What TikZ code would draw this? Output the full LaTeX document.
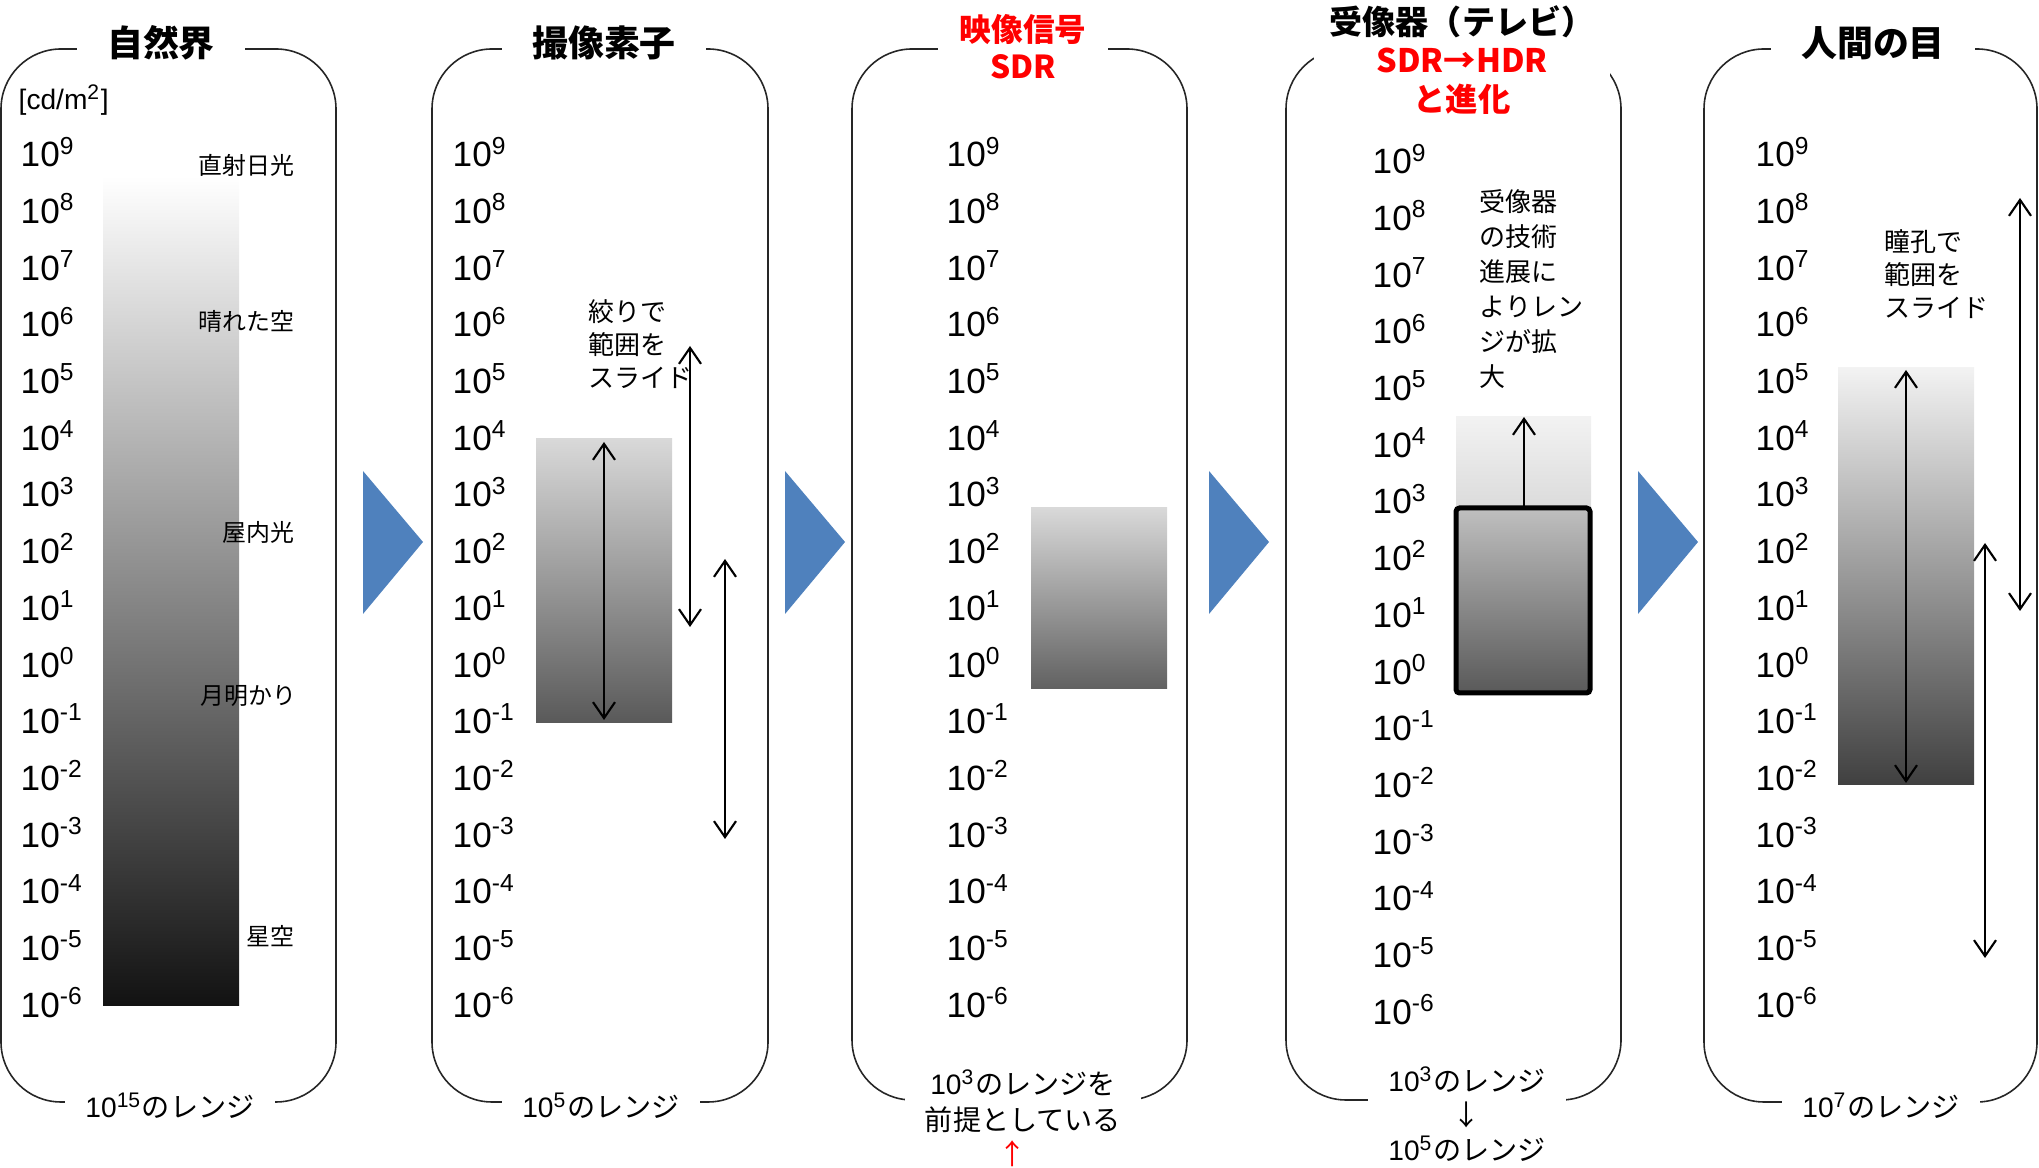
\documentclass[tikz,border=0pt]{standalone}
\usepackage{fontspec}
\setmainfont{Liberation Sans}
\newfontfamily\jp{Noto Sans CJK JP}
\usetikzlibrary{arrows.meta}

\definecolor{chevron}{HTML}{4F81BD}
\definecolor{hdrred}{HTML}{FF0000}

\begin{document}
\begin{tikzpicture}[x=0.01cm,y=-0.01cm,
  panel/.style={draw=black!85,line width=0.45pt,rounded corners=0.6cm},
  title/.style={fill=white,inner xsep=0.3cm,inner ysep=2pt,font=\jp\bfseries\fontsize{10.2}{12}\selectfont},
  redtitle/.style={fill=white,text=hdrred,align=center,inner xsep=0.22cm,font=\jp\bfseries\fontsize{9}{10.5}\selectfont},
  foot/.style={fill=white,inner xsep=0.2cm,inner ysep=1pt,align=center,font=\fontsize{8}{10.2}\selectfont},
  tick/.style={anchor=west,inner sep=0pt,font=\fontsize{10}{12}\selectfont},
  note/.style={anchor=west,align=left,inner sep=0pt,font=\jp\fontsize{7.4}{9.4}\selectfont},
  scene/.style={anchor=east,inner sep=0pt,font=\jp\fontsize{6.8}{8}\selectfont},
  span/.style={{Straight Barb[length=0.16cm,width=0.22cm]}-{Straight Barb[length=0.16cm,width=0.22cm]},line width=0.6pt},
  rise/.style={-{Straight Barb[length=0.16cm,width=0.22cm]},line width=0.6pt}
]
\useasboundingbox (0,0) rectangle (2039,1168);

% panels
\draw[panel] (1,49) rectangle (336,1102);
\draw[panel] (432,49) rectangle (768,1102);
\draw[panel] (852,49) rectangle (1187,1100);
\draw[panel] (1286,49) rectangle (1621,1100);
\draw[panel] (1704,49) rectangle (2037,1102);

% chevrons between panels
\fill[chevron] (363,471) -- (423,542) -- (363,614) -- cycle;
\fill[chevron] (785,471) -- (845,542) -- (785,614) -- cycle;
\fill[chevron] (1209,471) -- (1269,542) -- (1209,614) -- cycle;
\fill[chevron] (1638,471) -- (1698,542) -- (1638,614) -- cycle;

% titles
\node[title] (nature) at (161,43) {自然界};
\node[title] (sensor) at (604,43) {撮像素子};
\node[redtitle] (signal) at (1023,47) {映像信号\\SDR};
\node[redtitle,inner xsep=0.16cm,font=\jp\bfseries\fontsize{9.2}{10.9}\selectfont] (tv) at (1462,60)
  {{\color{black}\fontsize{9.4}{10.9}\selectfont 受像器（テレビ）}\\SDR→HDR\\と進化};
\node[title] (eye) at (1873,43) {人間の目};

% luminance scales
\node[anchor=west,inner sep=0pt,font=\fontsize{8}{10}\selectfont] (unit) at (18,100) {[cd/m\textsuperscript{2}]};
\foreach \px/\py [count=\c] in {20/152,452/152,946/152,1372/159,1755/152}
  \foreach \e [count=\k from 0] in {9,8,...,-6}
    \node[tick] (t\c-\k) at (\px,\py+56.7*\k) {10\textsuperscript{\e}};

% nature
\shade[top color=white,bottom color=black!93] (103,176) rectangle (239,1006);
\node[scene] (sun) at (295,165) {直射日光};
\node[scene] (sky) at (295,321) {晴れた空};
\node[scene] (room) at (295,532) {屋内光};
\node[scene] (moon) at (297,696) {月明かり};
\node[scene] (star) at (295,936) {星空};

% sensor
\shade[top color=black!15,bottom color=black!65] (536,439) rectangle (672,723);
\node[note] (iris) at (588,344) {絞りで\\範囲を\\スライド};
\coordinate (s0t) at (604,442);
\coordinate (s0b) at (604,720);
\coordinate (s1t) at (690,346);
\coordinate (s1b) at (690,627);
\coordinate (s2t) at (725,559);
\coordinate (s2b) at (725,839);
\draw[span] (s0t) -- (s0b);
\draw[span] (s1t) -- (s1b);
\draw[span] (s2t) -- (s2b);

% signal
\shade[top color=black!15,bottom color=black!62] (1031,508) rectangle (1167,689);

% tv
\shade[top color=black!5,bottom color=black!14] (1456,417) rectangle (1591,507);
\shade[draw=black,line width=0.05cm,rounded corners=1pt,top color=black!25,bottom color=black!65] (1456,508) rectangle (1590,693);
\node[note,font=\jp\fontsize{7.4}{10}\selectfont] (growth) at (1479,289) {受像器\\の技術\\進展に\\よりレン\\ジが拡\\大};
\coordinate (tvb) at (1524,506);
\coordinate (tvt) at (1524,417);
\draw[rise] (tvb) -- (tvt);

% eye
\shade[top color=black!5,bottom color=black!75] (1838,368) rectangle (1974,785);
\node[note] (pupil) at (1884,274) {瞳孔で\\範囲を\\スライド};
\coordinate (e0t) at (1906,370);
\coordinate (e0b) at (1906,783);
\coordinate (e1t) at (2020,198);
\coordinate (e1b) at (2020,611);
\coordinate (e2t) at (1985,543);
\coordinate (e2b) at (1985,958);
\draw[span] (e0t) -- (e0b);
\draw[span] (e1t) -- (e1b);
\draw[span] (e2t) -- (e2b);

% ranges
\node[foot] (r1) at (170,1106) {10\textsuperscript{15}{\jp のレンジ}};
\node[foot] (r2) at (601,1106) {10\textsuperscript{5}{\jp のレンジ}};
\node[foot] (r3) at (1023,1101) {10\textsuperscript{3}{\jp のレンジを}\\{\jp 前提としている}};
\node[inner sep=0pt,text=hdrred,font=\jp\fontsize{8}{10}\selectfont] (r3up) at (1013,1154) {↑};
\node[foot,font=\fontsize{8}{9.9}\selectfont] (r4) at (1467,1114) {10\textsuperscript{3}{\jp のレンジ}\\{\jp ↓}\\10\textsuperscript{5}{\jp のレンジ}};
\node[foot] (r5) at (1881,1106) {10\textsuperscript{7}{\jp のレンジ}};
\end{tikzpicture}
\end{document}
